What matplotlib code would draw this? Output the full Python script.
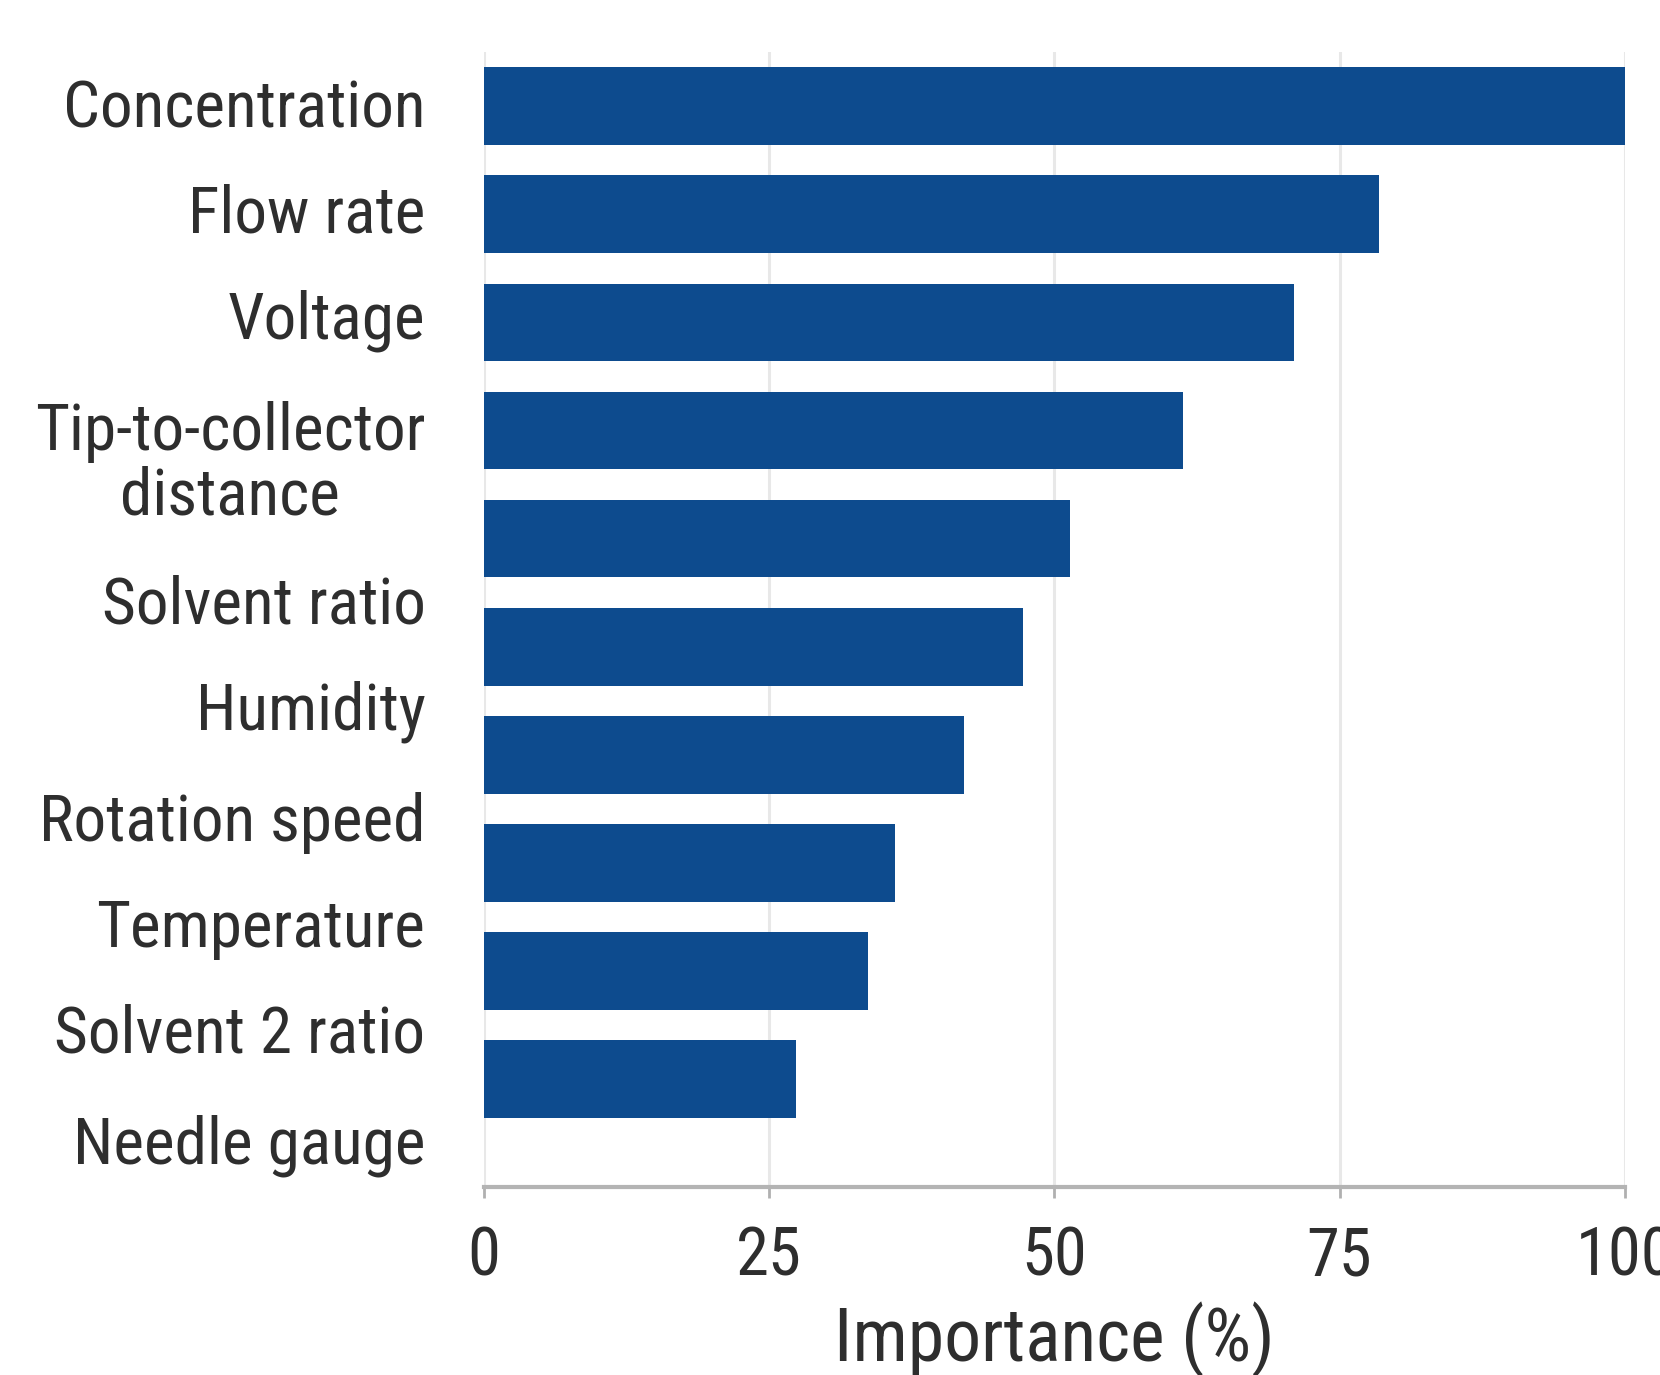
import matplotlib
matplotlib.use("Agg")
import matplotlib.pyplot as plt
from matplotlib import font_manager

# data
factors = ["Concentration", "Flow rate", "Voltage", "Tip-to-collector\ndistance",
           "Solvent ratio", "Humidity", "Rotation speed", "Temperature",
           "Solvent 2 ratio", "Needle gauge"]
importance = [100, 78.5, 71, 61.3, 51.4, 47.3, 42.1, 36, 33.7, 27.4]
xticks = [0, 25, 50, 75, 100]

# pick a narrow font if it is there
names = {f.name for f in font_manager.fontManager.ttflist}
family = "DejaVu Sans"
for cand in ["Liberation Sans Narrow", "Roboto Condensed", "DejaVu Sans Condensed", "Liberation Sans"]:
    if cand in names:
        family = cand
        break
plt.rcParams["font.family"] = [family, "DejaVu Sans"]

bar_color = "#0d4b8e"
text_color = "#2e2e2e"

fig = plt.figure(figsize=(16.6, 13.75), dpi=100)
ax = fig.add_axes([0.2914, 0.1367, 0.6874, 0.8253])

pos = list(range(len(factors)))
ax.barh(pos, importance, height=0.72, color=bar_color, zorder=3)

ax.set_xlim(0, 100)
ax.set_ylim(10.0, -0.5)

# labels in the reference drift down after the two-line label
shift = [-0.03, -0.06, -0.08, 0.24, 0.56, 0.54, 0.57, 0.55, 0.53, 0.56]
ax.set_yticks([p + s for p, s in zip(pos, shift)])
ax.set_yticklabels(factors, fontsize=47, color=text_color)
for lab in ax.get_yticklabels():
    lab.set_multialignment("center")
    lab.set_linespacing(1.05)
ax.tick_params(axis="y", length=0, pad=42)

ax.set_xticks(xticks)
ax.set_xticklabels([str(t) for t in xticks], fontsize=48, color=text_color)
ax.tick_params(axis="x", length=8, width=2, color="#b0b0b0", pad=20)

ax.grid(axis="x", color="#e8e8e8", linewidth=2.2, zorder=0)
ax.set_axisbelow(True)

for s in ["top", "right", "left"]:
    ax.spines[s].set_visible(False)
ax.spines["bottom"].set_color("#b4b4b4")
ax.spines["bottom"].set_linewidth(3)

ax.set_xlabel("Importance (%)", fontsize=53, color=text_color, labelpad=8)

fig.savefig("out.png", dpi=100)
